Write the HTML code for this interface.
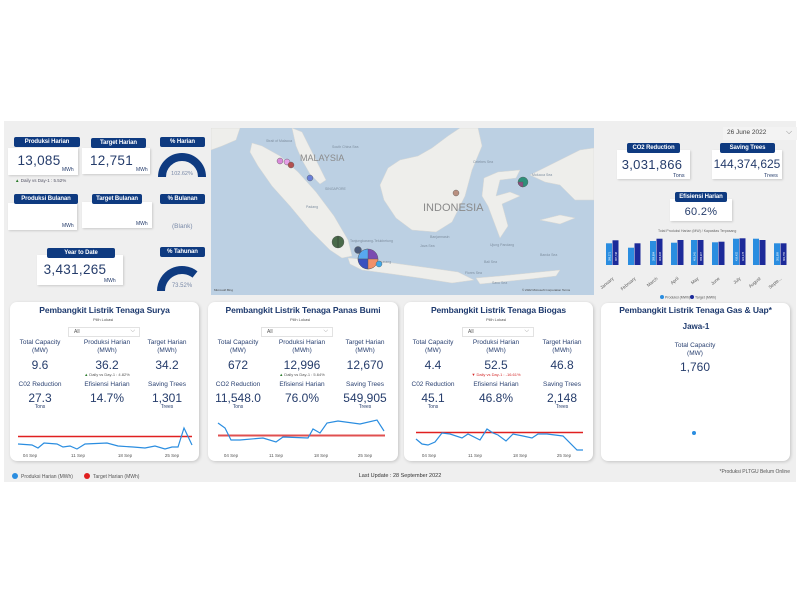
<!DOCTYPE html>
<html><head><meta charset="utf-8"><style>
*{margin:0;padding:0;box-sizing:border-box;white-space:nowrap}
body{width:802px;height:602px;background:#fff;position:relative;overflow:hidden;font-family:"Liberation Sans",sans-serif;color:#253c6b}
.a{position:absolute}
.bg{left:4px;top:121px;width:792px;height:361px;background:#efefef}
.card{position:absolute;background:#fff;box-shadow:1px 1px 2px rgba(0,0,0,.15)}
.badge{position:absolute;background:#0e3a80;color:#fff;font-size:6px;font-weight:bold;text-align:center;line-height:10px;border-radius:2px;letter-spacing:-.1px}
.big{position:absolute;font-size:13.5px;text-align:center;color:#253c6b;letter-spacing:.3px}
.unit{position:absolute;font-size:5px;color:#253c6b}
.panel{position:absolute;background:#fff;border-radius:7px;box-shadow:1px 1px 3px rgba(0,0,0,.18)}
.pt{position:absolute;left:0;width:100%;text-align:center;font-size:8.5px;font-weight:bold;color:#1e3a6e;letter-spacing:-.1px}
.c{position:absolute;text-align:center;width:70px;margin-left:-35px}
.lbl{font-size:6.5px;line-height:8px;color:#2b4272}
.val{font-size:12px;color:#253c6b}
.sm{font-size:5px;color:#555}
.dd{position:absolute;width:72px;height:10px;border:1px solid #e2e2e2;font-size:5px;line-height:8px;padding-left:5px;color:#555;background:#fff}
.dd:after{content:"⌵";position:absolute;right:4px;top:-1px;font-size:6px;color:#999}
</style></head><body>
<div class="a bg"></div>

<div class="card" style="left:8px;top:148px;width:70px;height:27px"></div>
<div class="badge" style="left:14px;top:137px;width:66px">Produksi Harian</div>
<div class="big" style="left:8px;top:153px;width:62px">13,085</div>
<div class="unit" style="left:62px;top:167px">MWh</div>
<div class="a" style="left:15px;top:178px;font-size:4.5px;color:#556"><span style="color:#2a7a2a">▲</span> Daily vs Day-1 : 5.52%</div>

<div class="card" style="left:82px;top:148px;width:68px;height:26px"></div>
<div class="badge" style="left:91px;top:138px;width:55px">Target Harian</div>
<div class="big" style="left:84px;top:153px;width:55px">12,751</div>
<div class="unit" style="left:136px;top:167px">MWh</div>

<div class="badge" style="left:160px;top:137px;width:45px">% Harian</div>
<svg class="a" style="left:155px;top:148px" width="55" height="32"><path d="M7,29 A20,20 0 0 1 47,29" fill="none" stroke="#0e3a80" stroke-width="8"/><text x="27" y="27" font-size="5.5" fill="#7a8aa8" text-anchor="middle" font-family="Liberation Sans,sans-serif">102.62%</text></svg>

<div class="card" style="left:8px;top:203px;width:69px;height:27px"></div>
<div class="badge" style="left:14px;top:194px;width:64px">Produksi Bulanan</div>
<div class="unit" style="left:62px;top:223px">MWh</div>
<div class="card" style="left:82px;top:202px;width:70px;height:26px"></div>
<div class="badge" style="left:92px;top:194px;width:50px">Target Bulanan</div>
<div class="unit" style="left:136px;top:221px">MWh</div>
<div class="badge" style="left:160px;top:194px;width:45px">% Bulanan</div>
<div class="a" style="left:172px;top:223px;font-size:6.5px;color:#7a8aa8">(Blank)</div>

<div class="card" style="left:37px;top:255px;width:86px;height:30px"></div>
<div class="badge" style="left:47px;top:248px;width:68px">Year to Date</div>
<div class="big" style="left:37px;top:262px;width:76px">3,431,265</div>
<div class="unit" style="left:104px;top:278px">MWh</div>
<div class="badge" style="left:160px;top:247px;width:45px">% Tahunan</div>
<svg class="a" style="left:155px;top:260px" width="55" height="32"><path d="M6,31 A21,21 0 0 1 40,14.5" fill="none" stroke="#0e3a80" stroke-width="8"/><text x="27" y="27" font-size="6" fill="#7a8aa8" text-anchor="middle" font-family="Liberation Sans,sans-serif">73.52%</text></svg>

<svg class="a" style="left:211px;top:128px" width="383" height="167" viewBox="211 128 383 167" font-family="Liberation Sans,sans-serif">
<rect x="211" y="128" width="383" height="167" fill="#bcd0e3"/>
<g fill="#eeeeeb" stroke="#d8d8d4" stroke-width=".5">
<polygon points="252,143 262,146 280,156 298,172 316,192 334,216 348,240 352,256 342,258 330,250 310,230 290,206 272,186 258,166 250,152"/>
<polygon points="292,128 302,132 310,148 318,164 326,180 320,184 310,174 302,160 296,146"/>
<polygon points="380,185 388,168 400,160 418,156 432,148 448,136 460,128 478,128 482,146 472,170 465,196 452,222 436,232 412,230 396,218 384,200"/>
<polygon points="484,178 498,172 520,170 516,178 500,180 496,196 510,192 520,196 502,204 508,226 500,238 494,222 488,206 482,196"/>
<polygon points="348,258 372,260 400,264 430,268 458,272 474,280 452,283 420,278 392,274 362,270 350,264"/>
<polygon points="476,278 500,276 520,274 540,272 560,270 556,276 530,279 500,282 480,284"/>
<polygon points="530,175 560,160 580,150 594,148 594,200 575,200 560,185 545,182"/>
<polygon points="540,220 560,215 575,218 560,224"/>
<polygon points="211,128 240,128 236,140 222,146 211,150"/>
</g>
<g font-size="9" fill="#8a8a8a"><text x="300" y="161">MALAYSIA</text><text x="423" y="211" font-size="11">INDONESIA</text></g>
<g font-size="3.5" fill="#7f8fa0"><text x="266" y="142">Strait of Malacca</text><text x="332" y="148">South China Sea</text><text x="473" y="163">Celebes Sea</text><text x="532" y="176">Molucca Sea</text><text x="325" y="190">SINGAPORE</text><text x="306" y="208">Padang</text><text x="430" y="238">Banjarmasin</text><text x="420" y="247">Java Sea</text><text x="484" y="263">Bali Sea</text><text x="465" y="274">Flores Sea</text><text x="540" y="256">Banda Sea</text><text x="492" y="284">Savu Sea</text><text x="350" y="242">Tanjungkarang-Telukbetung</text><text x="375" y="263">Semarang</text><text x="490" y="246">Ujung Pandang</text></g>
<g stroke="#555" stroke-width=".4">
<circle cx="280" cy="161" r="3" fill="#d98ad9"/><circle cx="287" cy="162" r="3" fill="#e6a0e6"/><circle cx="291" cy="165" r="3" fill="#b35050"/><circle cx="310" cy="178" r="3" fill="#6a80d8"/><circle cx="456" cy="193" r="3" fill="#b99080"/>
<circle cx="523" cy="182" r="5" fill="#2f8f7a"/><path d="M523,182 L523,187 A5,5 0 0 1 518,182Z" fill="#8a5080"/><circle cx="338" cy="242" r="6" fill="#4a6a4a"/><line x1="338" y1="236" x2="338" y2="248" stroke="#222"/><circle cx="358" cy="250" r="3.5" fill="#4a5a7a"/>
<circle cx="368" cy="259" r="10" fill="#7a4ab0"/><path d="M368,259 L368,249 A10,10 0 0 0 358,259Z" fill="#58a8f0"/><path d="M368,259 L358,259 A10,10 0 0 0 368,269Z" fill="#3a50c0"/><path d="M368,259 L368,269 A10,10 0 0 0 378,259Z" fill="#f0906a"/>
<circle cx="379" cy="264" r="3" fill="#40a8e8"/></g>
<text x="214" y="291" font-size="3" fill="#444">Microsoft Bing</text><text x="522" y="291" font-size="3" fill="#444">© 2022 Microsoft Corporation  Terms</text>
</svg>

<div class="a" style="left:723px;top:127px;width:74px;height:13px;background:#f3f3f3"></div>
<div class="a" style="left:727px;top:129px;font-size:6.5px;color:#444">26 June 2022</div>
<div class="a" style="left:786px;top:127px;font-size:8px;color:#888">⌵</div>
<div class="card" style="left:617px;top:150px;width:73px;height:29px"></div>
<div class="badge" style="left:627px;top:143px;width:53px">CO2 Reduction</div>
<div class="big" style="left:617px;top:157px;width:70px;font-size:13px">3,031,866</div>
<div class="unit" style="left:673px;top:173px;font-size:5.5px">Tons</div>
<div class="card" style="left:712px;top:150px;width:70px;height:29px"></div>
<div class="badge" style="left:720px;top:143px;width:55px">Saving Trees</div>
<div class="big" style="left:710px;top:157px;width:74px;font-size:12px;letter-spacing:0">144,374,625</div>
<div class="unit" style="left:764px;top:173px;font-size:5.5px">Trees</div>
<div class="card" style="left:670px;top:199px;width:62px;height:22px"></div>
<div class="badge" style="left:675px;top:192px;width:52px">Efisiensi Harian</div>
<div class="big" style="left:670px;top:206px;width:62px;font-size:11px">60.2%</div>
<div class="a" style="left:658px;top:229px;font-size:3.5px;color:#666">Total Produksi Harian (MW) / Kapasitas Terpasang</div>
<svg class="a" style="left:598px;top:235px" width="200" height="65" font-family="Liberation Sans,sans-serif">
<g fill="#2a8de0"><rect x="8" y="8.3" width="6" height="21.7"/><rect x="30" y="12.7" width="6" height="17.3"/><rect x="52" y="6" width="6" height="24"/><rect x="73" y="7.7" width="6" height="22.3"/><rect x="93" y="5" width="6" height="25"/><rect x="114" y="7.3" width="6" height="22.7"/><rect x="135" y="3.7" width="6" height="26.3"/><rect x="155" y="3.7" width="6" height="26.3"/><rect x="176" y="8.3" width="6" height="21.7"/></g>
<g fill="#1c2a9a"><rect x="14.5" y="5.3" width="6" height="24.7"/><rect x="36.5" y="8.3" width="6" height="21.7"/><rect x="58.5" y="3.7" width="6" height="26.3"/><rect x="79.5" y="5" width="6" height="25"/><rect x="99.5" y="5" width="6" height="25"/><rect x="120.5" y="6.7" width="6" height="23.3"/><rect x="141.5" y="3.3" width="6" height="26.7"/><rect x="161.5" y="5" width="6" height="25"/><rect x="182.5" y="8.3" width="6" height="21.7"/></g>
<g font-size="2.5" fill="#fff"><text transform="translate(12.5,26) rotate(-90)">386,271</text><text transform="translate(19,26) rotate(-90)">397,748</text><text transform="translate(56.5,26) rotate(-90)">389,884</text><text transform="translate(63,26) rotate(-90)">406,433</text><text transform="translate(97.5,26) rotate(-90)">405,041</text><text transform="translate(104,26) rotate(-90)">399,207</text><text transform="translate(139.5,26) rotate(-90)">415,432</text><text transform="translate(146,26) rotate(-90)">421,178</text><text transform="translate(180.5,26) rotate(-90)">381,889</text><text transform="translate(187,26) rotate(-90)">381,755</text></g>
<g font-size="4.5" fill="#555"><text transform="translate(16,44) rotate(-40)" text-anchor="end">January</text><text transform="translate(38,44) rotate(-40)" text-anchor="end">February</text><text transform="translate(60,44) rotate(-40)" text-anchor="end">March</text><text transform="translate(81,44) rotate(-40)" text-anchor="end">April</text><text transform="translate(101,44) rotate(-40)" text-anchor="end">May</text><text transform="translate(122,44) rotate(-40)" text-anchor="end">June</text><text transform="translate(143,44) rotate(-40)" text-anchor="end">July</text><text transform="translate(163,44) rotate(-40)" text-anchor="end">August</text><text transform="translate(184,44) rotate(-40)" text-anchor="end">Septe...</text></g>
<circle cx="64" cy="62" r="2" fill="#2a8de0"/><text x="67" y="63.5" font-size="3.5" fill="#555">Produksi (MWh)</text><circle cx="94" cy="62" r="2" fill="#1c2a9a"/><text x="97" y="63.5" font-size="3.5" fill="#555">Target (MWh)</text>
</svg>

<div class="panel" style="left:10px;top:302px;width:189px;height:159px"></div>
<div class="panel" style="left:208px;top:302px;width:190px;height:159px"></div>
<div class="panel" style="left:404px;top:302px;width:189px;height:159px"></div>
<div class="panel" style="left:601px;top:303px;width:189px;height:158px"></div>

<div class="a" style="left:10px;top:305px;width:189px"><div class="pt" style="top:0">Pembangkit Listrik Tenaga Surya</div></div>
<div class="a" style="left:208px;top:305px;width:190px"><div class="pt" style="top:0">Pembangkit Listrik Tenaga Panas Bumi</div></div>
<div class="a" style="left:404px;top:305px;width:189px"><div class="pt" style="top:0">Pembangkit Listrik Tenaga Biogas</div></div>
<div class="a" style="left:601px;top:305px;width:189px"><div class="pt" style="top:0">Pembangkit Listrik Tenaga Gas &amp; Uap*</div></div>

<div class="a sm" style="left:93px;top:317px;font-size:4px">Pilih Lokasi</div>
<div class="a sm" style="left:290px;top:317px;font-size:4px">Pilih Lokasi</div>
<div class="a sm" style="left:486px;top:317px;font-size:4px">Pilih Lokasi</div>
<div class="dd" style="left:68px;top:327px">All</div>
<div class="dd" style="left:261px;top:327px">All</div>
<div class="dd" style="left:462px;top:327px">All</div>

<div class="c lbl" style="left:40px;top:339px">Total Capacity<br>(MW)</div>
<div class="c lbl" style="left:107px;top:339px">Produksi Harian<br>(MWh)</div>
<div class="c lbl" style="left:167px;top:339px">Target Harian<br>(MWh)</div>
<div class="c val" style="left:40px;top:358px">9.6</div>
<div class="c val" style="left:107px;top:358px">36.2</div>
<div class="c val" style="left:167px;top:358px">34.2</div>
<div class="c" style="left:107px;top:372px;font-size:4px;color:#555;width:90px;margin-left:-45px"><span style="color:#2a7a2a">▲</span> Daily vs Day-1 : 4.82%</div>
<div class="c lbl" style="left:40px;top:381px">C02 Reduction</div>
<div class="c lbl" style="left:107px;top:381px">Efisiensi Harian</div>
<div class="c lbl" style="left:167px;top:381px">Saving Trees</div>
<div class="c val" style="left:40px;top:391px">27.3</div>
<div class="c val" style="left:107px;top:391px">14.7%</div>
<div class="c val" style="left:167px;top:391px">1,301</div>
<div class="c sm" style="left:40px;top:404px;color:#253c6b">Tons</div>
<div class="c sm" style="left:167px;top:404px;color:#253c6b">Trees</div>

<div class="c lbl" style="left:238px;top:339px">Total Capacity<br>(MW)</div>
<div class="c lbl" style="left:302px;top:339px">Produksi Harian<br>(MWh)</div>
<div class="c lbl" style="left:365px;top:339px">Target Harian<br>(MWh)</div>
<div class="c val" style="left:238px;top:358px">672</div>
<div class="c val" style="left:302px;top:358px">12,996</div>
<div class="c val" style="left:365px;top:358px">12,670</div>
<div class="c" style="left:302px;top:372px;font-size:4px;color:#555;width:90px;margin-left:-45px"><span style="color:#2a7a2a">▲</span> Daily vs Day-1 : 5.64%</div>
<div class="c lbl" style="left:238px;top:381px">CO2 Reduction</div>
<div class="c lbl" style="left:302px;top:381px">Efisiensi Harian</div>
<div class="c lbl" style="left:365px;top:381px">Saving Trees</div>
<div class="c val" style="left:238px;top:391px">11,548.0</div>
<div class="c val" style="left:302px;top:391px">76.0%</div>
<div class="c val" style="left:365px;top:391px">549,905</div>
<div class="c sm" style="left:238px;top:404px;color:#253c6b">Tons</div>
<div class="c sm" style="left:365px;top:404px;color:#253c6b">Trees</div>

<div class="c lbl" style="left:433px;top:339px">Total Capacity<br>(MW)</div>
<div class="c lbl" style="left:496px;top:339px">Produksi Harian<br>(MWh)</div>
<div class="c lbl" style="left:562px;top:339px">Target Harian<br>(MWh)</div>
<div class="c val" style="left:433px;top:358px">4.4</div>
<div class="c val" style="left:496px;top:358px">52.5</div>
<div class="c val" style="left:562px;top:358px">46.8</div>
<div class="c" style="left:496px;top:372px;font-size:4px;color:#d42a2a;width:90px;margin-left:-45px">▼ Daily vs Day-1 : -16.61%</div>
<div class="c lbl" style="left:433px;top:381px">C02 Reduction</div>
<div class="c lbl" style="left:496px;top:381px">Efisiensi Harian</div>
<div class="c lbl" style="left:562px;top:381px">Saving Trees</div>
<div class="c val" style="left:433px;top:391px">45.1</div>
<div class="c val" style="left:496px;top:391px">46.8%</div>
<div class="c val" style="left:562px;top:391px">2,148</div>
<div class="c sm" style="left:433px;top:404px;color:#253c6b">Tons</div>
<div class="c sm" style="left:562px;top:404px;color:#253c6b">Trees</div>

<div class="c" style="left:696px;top:322px;font-size:8px;font-weight:bold;color:#1e3a6e">Jawa-1</div>
<div class="c lbl" style="left:695px;top:342px">Total Capacity<br>(MW)</div>
<div class="c val" style="left:695px;top:360px">1,760</div>
<div class="a" style="left:692px;top:431px;width:4px;height:4px;border-radius:50%;background:#2a8de0"></div>

<svg class="a" style="left:0;top:0" width="802" height="602">
<line x1="18" y1="436.5" x2="192" y2="436.5" stroke="#e02020" stroke-width="1.5"/>
<polyline fill="none" stroke="#2a8de0" stroke-width="1.2" points="18,444 32,445 38,448 44,443 57,444 63,447 70,446 77,449 85,444 107,443 118,446 133,447 145,448 155,446 165,449 172,447 178,447 184,428 192,445"/>
<line x1="218" y1="435.5" x2="385" y2="435.5" stroke="#e05050" stroke-width="2"/>
<polyline fill="none" stroke="#2a8de0" stroke-width="1.2" points="218,423 225,428 231,440 240,440 263,438 276,442 283,437 308,438 313,429 320,433 327,423 338,421 360,424 377,420 384,431"/>
<line x1="416" y1="432.5" x2="583" y2="432.5" stroke="#e02020" stroke-width="1.5"/>
<polyline fill="none" stroke="#2a8de0" stroke-width="1.2" points="416,439 422,444 428,445 435,442 442,433 450,434 462,438 468,434 480,440 487,429 493,433 498,435 506,441 513,434 523,436 532,438 538,434 547,434 563,436 577,450 583,450"/>
<g font-size="4.5" fill="#555" font-family="Liberation Sans,sans-serif" text-anchor="middle">
<text x="30" y="457">04 Sep</text><text x="78" y="457">11 Sep</text><text x="125" y="457">18 Sep</text><text x="172" y="457">25 Sep</text>
<text x="231" y="457">04 Sep</text><text x="276" y="457">11 Sep</text><text x="321" y="457">18 Sep</text><text x="365" y="457">25 Sep</text>
<text x="429" y="457">04 Sep</text><text x="475" y="457">11 Sep</text><text x="520" y="457">18 Sep</text><text x="564" y="457">25 Sep</text>
</g>
<circle cx="15" cy="476" r="3" fill="#2a8de0"/><text x="21" y="478" font-size="5" fill="#555" font-family="Liberation Sans,sans-serif">Produksi Harian (MWh)</text>
<circle cx="87" cy="476" r="3" fill="#e02020"/><text x="93" y="478" font-size="5" fill="#555" font-family="Liberation Sans,sans-serif">Target Harian (MWh)</text>
<text x="400" y="477" font-size="5.5" fill="#333" text-anchor="middle" font-family="Liberation Sans,sans-serif">Last Update : 28 September 2022</text>
<text x="790" y="473" font-size="5" fill="#555" text-anchor="end" font-family="Liberation Sans,sans-serif">*Produksi PLTGU Belum Online</text>
</svg>
</body></html>
